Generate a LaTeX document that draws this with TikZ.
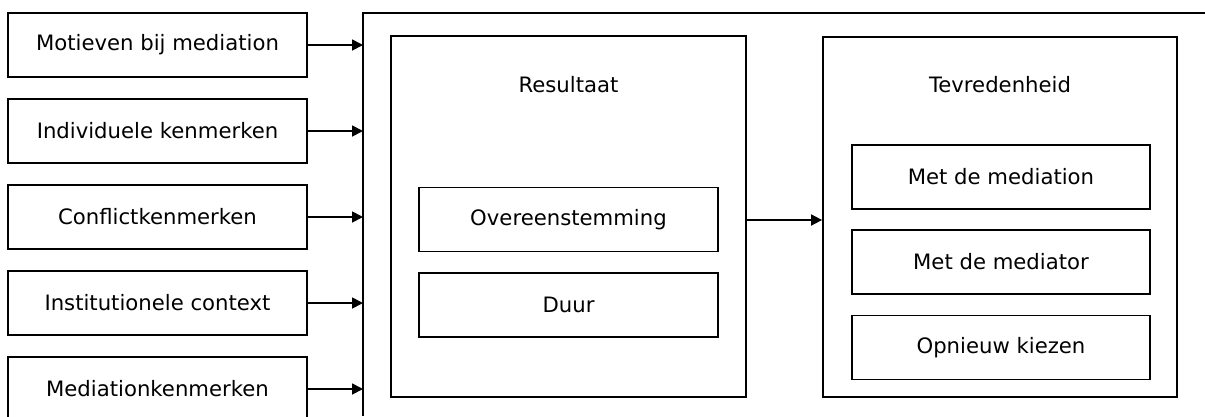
\documentclass[tikz,border=0pt]{standalone}
\usepackage{fontspec}
\setmainfont{DejaVu Sans}
\usetikzlibrary{arrows.meta}

\tikzset{
  box/.style={draw, line width=1.8pt, minimum width=299pt, minimum height=64pt,
    inner sep=0pt, font=\fontsize{21.2}{25}\selectfont},
  bigbox/.style={draw, line width=1.8pt, inner sep=0pt},
  label/.style={font=\fontsize{21.2}{25}\selectfont},
  tip/.style={line width=1.8pt, -{Triangle[length=11pt,width=11pt]}}
}

\begin{document}
\begin{tikzpicture}[x=1pt,y=-1pt]
    \useasboundingbox (0,0) rectangle (1205,416);
    % outer frame, open on the right and at the bottom
    \coordinate (frame) at (363,13);
    \draw[line width=1.8pt] (1205,13) -- (frame) -- (363,416);
    % inputs on the left
    \foreach \txt [count=\i] in {Motieven bij mediation,Individuele kenmerken,
        Conflictkenmerken,Institutionele context,Mediationkenmerken}
       \node[box] (in\i) at (157.5,{45+86*(\i-1)}) {\txt};
    \foreach \i in {1,...,5}
       \draw[tip] (in\i) -- (in\i -| frame);
    % result
    \node[bigbox, minimum width=355pt, minimum height=361pt] (res) at (568.5,216.5) {};
    \node[label] (restitle) at (568.5,85) {Resultaat};
    \node[box] (overeen) at (568.5,219.5) {Overeenstemming};
    \node[box] (duur) at (568.5,305) {Duur};
    % satisfaction
    \node[bigbox, minimum width=354pt, minimum height=360pt] (tevr) at (1000,217) {};
    \node[label] (tevrtitle) at (1000,85) {Tevredenheid};
    \node[box, minimum width=298pt] (med1) at (1001,177) {Met de mediation};
    \node[box, minimum width=298pt] (med2) at (1001,262) {Met de mediator};
    \node[box, minimum width=298pt] (med3) at (1001,347.5) {Opnieuw kiezen};
    \draw[tip] (res.east |- 0,220) -- (tevr.west |- 0,220);
  \end{tikzpicture}
\end{document}
